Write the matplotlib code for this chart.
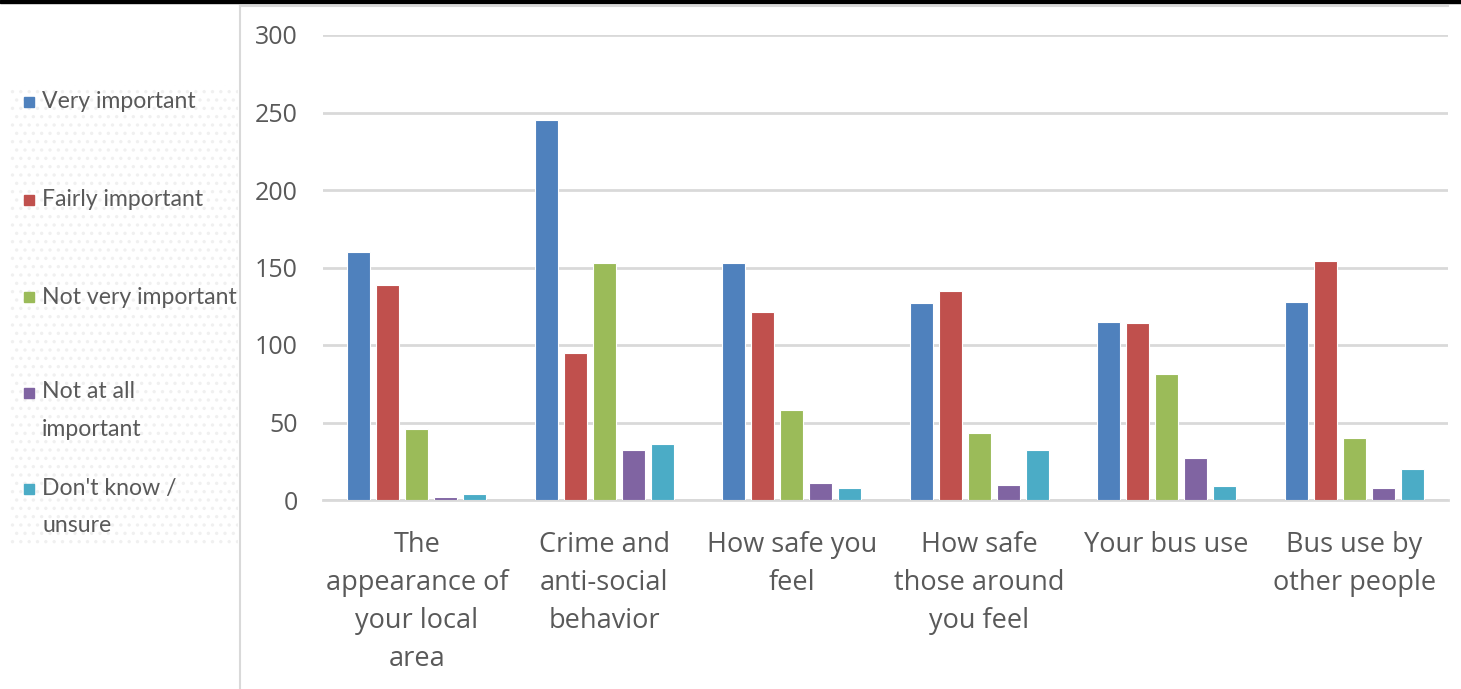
import numpy as np
import matplotlib.pyplot as plt
from matplotlib.patches import Rectangle
from matplotlib.lines import Line2D

plt.rcParams["font.family"] = ["Open Sans", "DejaVu Sans"]
plt.rcParams["hatch.linewidth"] = 1.2

categories = [
    "The\nappearance of\nyour local\narea",
    "Crime and\nanti-social\nbehavior",
    "How safe you\nfeel",
    "How safe\nthose around\nyou feel",
    "Your bus use",
    "Bus use by\nother people",
]
series = [
    "Very important",
    "Fairly important",
    "Not very important",
    "Not at all\nimportant",
    "Don't know /\nunsure",
]
very_important = [160, 245, 153, 127, 115, 128]
fairly_important = [139, 95, 121, 135, 114, 154]
not_very_important = [46, 153, 58, 43, 81, 40]
not_at_all_important = [2, 32, 11, 10, 27, 8]
dont_know = [4, 36, 8, 32, 9, 20]
yticks = [0, 50, 100, 150, 200, 250, 300]

colors = ["#4F81BD", "#C0504D", "#9BBB59", "#8064A2", "#4BACC6"]
values = [very_important, fairly_important, not_very_important,
          not_at_all_important, dont_know]

W, H = 1461, 689
fig = plt.figure(figsize=(W / 100, H / 100), dpi=100)
text_col = "#595959"
grid_col = "#D9D9D9"

# main plot area
ax = fig.add_axes([323 / W, 1 - 500 / H, 1125 / W, 465 / H])
x = np.arange(len(categories))
pitch = 0.1547
width = 0.123
for i, (vals, col) in enumerate(zip(values, colors)):
    ax.bar(x + (i - 2) * pitch, vals, width=width, color=col,
           edgecolor="white", linewidth=0.8, zorder=3)

ax.set_xlim(-0.5, len(categories) - 0.5)
ax.set_ylim(0, 300)
ax.set_yticks(yticks)
ax.yaxis.grid(True, color=grid_col, linewidth=2.0, zorder=0)
for s in ["top", "right", "left"]:
    ax.spines[s].set_visible(False)
ax.spines["bottom"].set_color(grid_col)
ax.spines["bottom"].set_linewidth(2.0)
ax.tick_params(axis="both", length=0, colors=text_col)
ax.tick_params(axis="y", labelsize=18, pad=18)
ax.set_xticks(x)
ax.set_xticklabels(categories, fontsize=19.5, color=text_col, va="top")
ax.tick_params(axis="x", pad=22)
for lbl in ax.get_xticklabels():
    lbl.set_linespacing(1.49)

# chart frame and top strip
fig.add_artist(Rectangle((0, 1 - 3 / H), 1, 3 / H, transform=fig.transFigure,
                         color="black", zorder=10))
fig.add_artist(Line2D([240 / W, 1448 / W], [1 - 6 / H, 1 - 6 / H],
                      transform=fig.transFigure, color="#D9D9D9", lw=1.5))
fig.add_artist(Line2D([240 / W, 240 / W], [0, 1 - 6 / H],
                      transform=fig.transFigure, color="#D9D9D9", lw=1.5))

# legend panel with dotted background
lax = fig.add_axes([10 / W, 1 - 545 / H, 228 / W, 460 / H])
lax.set_xlim(0, 228)
lax.set_ylim(545, 85)
lax.axis("off")
lax.add_patch(Rectangle((0, 85), 228, 460, facecolor="white",
                        edgecolor="#F0F0F0", hatch="..", lw=0, zorder=0))
centers = [102, 200, 297, 411, 507]
line_step = 36
for label, col, cy in zip(series, colors, centers):
    n_lines = label.count("\n") + 1
    sy = cy - (n_lines - 1) * line_step / 2
    lax.add_patch(Rectangle((14, sy - 5), 10, 10, color=col, zorder=2))
    lax.text(32, cy, label, fontsize=16.6, color=text_col, va="center",
             ha="left", family=["Lato", "DejaVu Sans"], linespacing=2.0,
             zorder=2)

fig.savefig("out.png", dpi=100)
